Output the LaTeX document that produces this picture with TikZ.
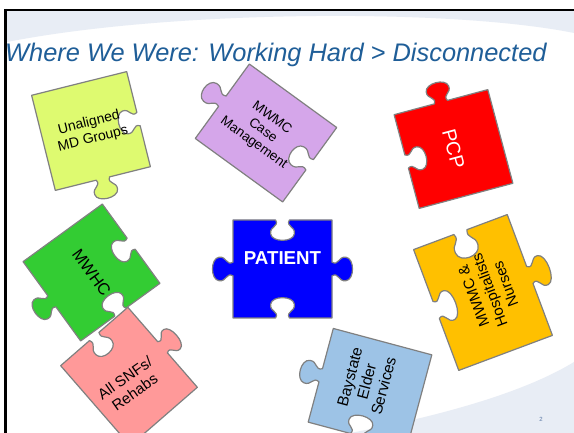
\documentclass[tikz,border=0pt]{standalone}
\usepackage{fontspec}
\setmainfont{Liberation Sans}
\definecolor{band}{RGB}{232,237,245}
\definecolor{titleblue}{RGB}{31,94,152}
\definecolor{numblue}{RGB}{90,120,165}
\definecolor{edgegray}{RGB}{128,128,128}
\definecolor{mdlime}{RGB}{222,250,112}
\definecolor{cmlilac}{RGB}{213,166,234}
\definecolor{pcpred}{RGB}{255,0,0}
\definecolor{whcgreen}{RGB}{51,204,51}
\definecolor{ptblue}{RGB}{0,0,255}
\definecolor{hosporange}{RGB}{255,192,0}
\definecolor{snfpink}{RGB}{255,153,153}
\definecolor{elderblue}{RGB}{157,195,230}

% one jigsaw piece, 100 x 100 round the origin
% sides: bottom, right, top, left (1 tab, -1 hole, 0 flat)
\newcommand\jigsaw[4]{%
  (-50,-50) -- (-7,-50)
  .. controls (-3,{-50-7*(#1)}) and (-13,{-50-6*(#1)}) .. (-12,{-50-14*(#1)})
  .. controls (-11,{-50-23*(#1)}) and (11,{-50-23*(#1)}) .. (12,{-50-14*(#1)})
  .. controls (13,{-50-6*(#1)}) and (3,{-50-7*(#1)}) .. (7,-50)
  -- (50,-50) -- (50,-7)
  .. controls ({50+7*(#2)},-3) and ({50+6*(#2)},-13) .. ({50+14*(#2)},-12)
  .. controls ({50+23*(#2)},-11) and ({50+23*(#2)},11) .. ({50+14*(#2)},12)
  .. controls ({50+6*(#2)},13) and ({50+7*(#2)},3) .. (50,7)
  -- (50,50) -- (7,50)
  .. controls (3,{50+7*(#3)}) and (13,{50+6*(#3)}) .. (12,{50+14*(#3)})
  .. controls (11,{50+23*(#3)}) and (-11,{50+23*(#3)}) .. (-12,{50+14*(#3)})
  .. controls (-13,{50+6*(#3)}) and (-3,{50+7*(#3)}) .. (-7,50)
  -- (-50,50) -- (-50,7)
  .. controls ({-50-7*(#4)},3) and ({-50-6*(#4)},13) .. ({-50-14*(#4)},12)
  .. controls ({-50-23*(#4)},11) and ({-50-23*(#4)},-11) .. ({-50-14*(#4)},-12)
  .. controls ({-50-6*(#4)},-13) and ({-50-7*(#4)},-3) .. (-50,-7)
  -- cycle}

\begin{document}
\begin{tikzpicture}[x=1pt, y=1pt,
  piece/.style={draw=edgegray, line width=1.2pt, line join=round},
  tag/.style={inner sep=0pt, align=center, text=black}]
\useasboundingbox (0,0) rectangle (574,433);

% backdrop
\fill[white] (0,0) rectangle (574,433);
\fill[band] (7,422) -- (574,422) -- (574,400) .. controls (450,425) and (170,423) .. (7,391) -- cycle;
\fill[band] (350,0) .. controls (430,15) and (520,38) .. (574,71) -- (574,0) -- cycle;
\draw[line width=2.5pt] (4,423) -- (574,423);
\draw[line width=3pt] (5.5,424) -- (5.5,0);

\node[anchor=base west, inner sep=0pt, text=titleblue,
  font=\fontsize{25.4}{30}\selectfont\itshape] (title) at (5,371.5)
  {Where We Were: Working Hard > Disconnected};

% pieces
\begin{scope}[shift={(91,302)}, rotate=14, transform shape]
  \draw[piece, fill=mdlime, scale=0.98] \jigsaw{1}{-1}{0}{0};
  \node[tag, font=\fontsize{14}{16.5}\selectfont] (md) {Unaligned\\MD Groups};
\end{scope}

\begin{scope}[shift={(266,300)}, rotate=-36, transform shape]
  \draw[piece, fill=cmlilac, xscale=1.08, yscale=0.92] \jigsaw{0}{-1}{0}{1};
  \node[tag, font=\fontsize{13.5}{15.5}\selectfont] (cm) at (-4,0) {MWMC\\Case\\Management};
\end{scope}

\begin{scope}[shift={(453.5,284)}, rotate=15, transform shape]
  \draw[piece, fill=pcpred, scale=0.97] \jigsaw{0}{0}{1}{-1};
  \node[tag, text=white, rotate=-90, font=\fontsize{19.5}{22}\selectfont] (pcp) {PCP};
\end{scope}

\begin{scope}[shift={(91.5,160.5)}, rotate=-54, transform shape]
  \draw[piece, fill=whcgreen, scale=0.98] \jigsaw{1}{-1}{-1}{0};
  \node[tag, font=\fontsize{16.5}{19}\selectfont] (mwhc) {MWHC};
\end{scope}

\begin{scope}[shift={(282.5,164)}, transform shape]
  \draw[piece, fill=ptblue, xscale=0.99, yscale=0.98] \jigsaw{-1}{1}{-1}{1};
  \node[tag, text=white, font=\fontsize{18.7}{22}\selectfont\bfseries] (patient) at (0,10.5) {PATIENT};
\end{scope}

\begin{scope}[shift={(483,140.5)}, rotate=20.5, transform shape]
  \draw[piece, fill=hosporange, xscale=1.0, yscale=1.29] \jigsaw{0}{1}{-1}{-1};
  \node[tag, rotate=90, font=\fontsize{15}{17}\selectfont] (hosp) at (7,0) {MWMC \&\\Hospitalists\\Nurses};
\end{scope}

\begin{scope}[shift={(129,56.5)}, rotate=41, transform shape]
  \draw[piece, fill=snfpink, xscale=0.89, yscale=1.06] \jigsaw{0}{1}{-1}{0};
  \node[tag, rotate=-6, font=\fontsize{15}{17}\selectfont] (snf) at (-5,-7) {All SNFs/\\Rehabs};
\end{scope}

\begin{scope}[shift={(370,44.5)}, rotate=-15, transform shape]
  \draw[piece, fill=elderblue, xscale=1.02, yscale=0.97] \jigsaw{-1}{0}{0}{1};
  \node[tag, rotate=90, font=\fontsize{15.5}{17.5}\selectfont] (elder) at (-5,6) {Baystate\\Elder\\Services};
\end{scope}

\node[text=numblue, inner sep=0pt, font=\fontsize{6}{7}\selectfont] (pagenum) at (541,14) {2};
\end{tikzpicture}
\end{document}
